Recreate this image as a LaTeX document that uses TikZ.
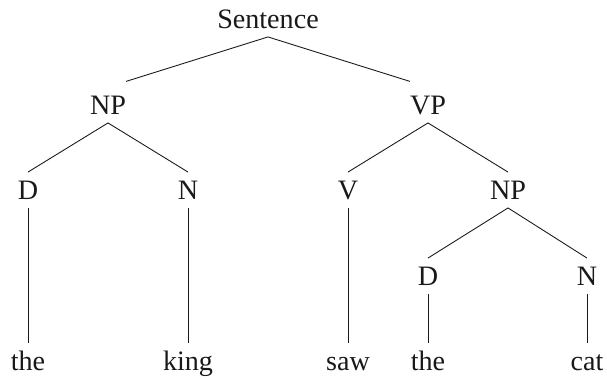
\documentclass[tikz,border=0pt]{standalone}
\usepackage{fontspec}
\setmainfont{Liberation Serif}
\usepackage{tikz}

\begin{document}
\begin{tikzpicture}
\useasboundingbox (0,0) rectangle (12.14,-7.56);
\begin{scope}[every node/.style={anchor=base,font=\fontsize{16}{19}\selectfont,
  text height=0.36cm,text depth=0pt,inner xsep=0pt,inner ysep=0.17cm},
  every path/.style={line width=0.5pt,black!90}]
\node (s) at (5.36,-0.56) {Sentence};

\node (np1) at (2.16,-2.28) {NP};
\node (vp) at (8.56,-2.28) {VP};

\node (d1) at (0.56,-3.98) {D};
\node (n1) at (3.76,-3.98) {N};
\node (v) at (6.96,-3.98) {V};
\node (np2) at (10.16,-3.98) {NP};

\node (d2) at (8.56,-5.70) {D};
\node (n2) at (11.74,-5.70) {N};

\node (the1) at (0.56,-7.40) {the};
\node (king) at (3.76,-7.40) {king};
\node (saw) at (6.96,-7.40) {saw};
\node (the2) at (8.56,-7.40) {the};
\node (cat) at (11.74,-7.40) {cat};

\draw[shorten >=0.38cm] (s.south) -- (np1.north);
\draw[shorten >=0.38cm] (s.south) -- (vp.north);

\draw (np1.south) -- (d1.north);
\draw (np1.south) -- (n1.north);
\draw (vp.south) -- (v.north);
\draw (vp.south) -- (np2.north);
\draw (np2.south) -- (d2.north);
\draw (np2.south) -- (n2.north);

\draw (d1.south) -- (the1.north);
\draw (n1.south) -- (king.north);
\draw (v.south) -- (saw.north);
\draw (d2.south) -- (the2.north);
\draw (n2.south) -- (cat.north);
\end{scope}
\end{tikzpicture}
\end{document}
